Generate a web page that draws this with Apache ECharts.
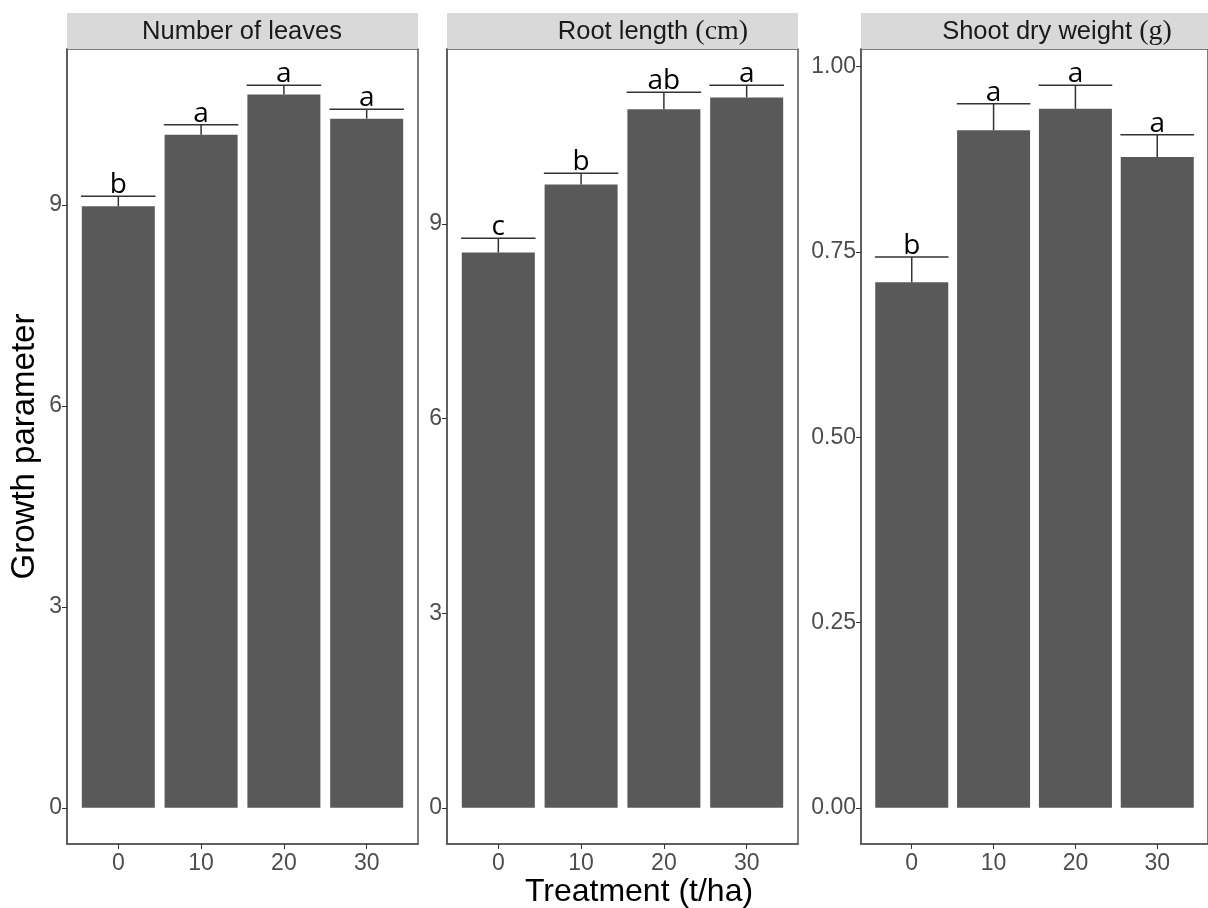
<!DOCTYPE html>
<html>
<head>
<meta charset="utf-8">
<script src="https://cdn.jsdelivr.net/npm/echarts@6/dist/echarts.min.js"></script>
<style>
  html, body { margin: 0; padding: 0; background: #fff; }
  #main { width: 1208px; height: 908px; }
</style>
</head>
<body>
<div id="main"></div>
<script>
// treatments on the x axis (t/ha)
var treatments = ['0', '10', '20', '30'];

// Number of leaves
var leaves = [8.98, 10.05, 10.65, 10.29];
var leavesSe = [0.15, 0.15, 0.14, 0.14];
var leavesLetters = ['b', 'a', 'a', 'a'];

// Root length (cm)
var rootLen = [8.56, 9.61, 10.77, 10.95];
var rootSe = [0.22, 0.17, 0.26, 0.19];
var rootLetters = ['c', 'b', 'ab', 'a'];

// Shoot dry weight (g)
var shootDw = [0.709, 0.914, 0.943, 0.878];
var shootSe = [0.034, 0.036, 0.032, 0.030];
var shootLetters = ['b', 'a', 'a', 'a'];

var ticksA = [0, 3, 6, 9];
var ticksB = [0, 0.25, 0.5, 0.75, 1.0];

var panels = [
  { vals: leaves, se: leavesSe, letters: leavesLetters, ticks: ticksA, dec: 0, left: 67 },
  { vals: rootLen, se: rootSe, letters: rootLetters, ticks: ticksA, dec: 0, left: 447 },
  { vals: shootDw, se: shootSe, letters: shootLetters, ticks: ticksB, dec: 2, left: 861 }
];

var lab = { fontFamily: '"Liberation Sans", Arial, sans-serif', fontSize: 23, color: '#4d4d4d' };
var grids = [], xAxes = [], yAxes = [], series = [];

panels.forEach(function (p, k) {
  // ggplot style 5% expansion of the data range
  var top = Math.max.apply(null, p.vals.map(function (v, i) { return v + p.se[i]; }));
  grids.push({ left: p.left, top: 49, width: 351, height: 795, show: true,
    borderColor: '#555', borderWidth: 1.5, backgroundColor: '#fff' });
  xAxes.push({
    type: 'value', gridIndex: k, min: -0.62, max: 3.62,
    splitLine: { show: false },
    axisLine: { show: true, onZero: false, lineStyle: { color: '#555', width: 1.5 } },
    axisTick: { show: true, length: 5, lineStyle: { color: '#333' }, customValues: [0, 1, 2, 3] },
    axisLabel: Object.assign({ margin: 8, customValues: [0, 1, 2, 3],
      formatter: function (v) { return treatments[Math.round(v)]; } }, lab)
  });
  yAxes.push({
    type: 'value', gridIndex: k, min: -0.05 * top, max: 1.05 * top,
    splitLine: { show: false },
    axisLine: { show: true, onZero: false, lineStyle: { color: '#555', width: 1.5 } },
    axisTick: { show: true, length: 5, lineStyle: { color: '#333' }, customValues: p.ticks },
    axisLabel: Object.assign({ margin: 5, customValues: p.ticks,
      formatter: function (v) { return v.toFixed(p.dec); } }, lab),
    name: k === 0 ? 'Growth parameter' : '',
    nameLocation: 'middle', nameGap: 26, nameRotate: 90,
    nameTextStyle: { fontFamily: '"Liberation Sans", Arial, sans-serif', fontSize: 33, color: '#000' }
  });
  series.push({
    type: 'bar', xAxisIndex: k, yAxisIndex: k, barWidth: 73,
    itemStyle: { color: '#595959' },
    data: p.vals.map(function (v, i) { return [i, v]; })
  });
  series.push({
    type: 'custom', xAxisIndex: k, yAxisIndex: k, z: 3,
    data: p.vals.map(function (v, i) { return [i, v, v + p.se[i]]; }),
    renderItem: function (params, api) {
      var a = api.coord([api.value(0), api.value(1)]);
      var b = api.coord([api.value(0), api.value(2)]);
      var half = api.size([0.9, 0])[0] / 2;
      var ls = { stroke: '#333', lineWidth: 1.5 };
      return { type: 'group', children: [
        { type: 'line', shape: { x1: a[0], y1: a[1], x2: b[0], y2: b[1] }, style: ls },
        { type: 'line', shape: { x1: b[0] - half, y1: b[1], x2: b[0] + half, y2: b[1] }, style: ls },
        { type: 'text', x: b[0], y: b[1] + 3, style: { text: p.letters[params.dataIndex],
          fill: '#000', font: '28px "Open Sans", "DejaVu Sans", sans-serif',
          align: 'center', verticalAlign: 'bottom' } }
      ] };
    }
  });
});

// facet strips
var strips = [
  { left: 67, cx: 242, text: '{s|Number of leaves}' },
  { left: 447, cx: 653, text: '{s|Root length }{r|(cm)}' },
  { left: 861, cx: 1057, text: '{s|Shoot dry weight }{r|(g)}' }
];
var graphics = [];
strips.forEach(function (s) {
  graphics.push({ type: 'rect', left: s.left, top: 13, shape: { width: 351, height: 36 },
    style: { fill: '#d9d9d9' } });
  graphics.push({ type: 'text', x: s.cx, y: 32, style: {
    text: s.text, align: 'center', verticalAlign: 'middle',
    rich: {
      s: { fontFamily: '"Liberation Sans", Arial, sans-serif', fontSize: 25.5, fill: '#1a1a1a' },
      r: { fontFamily: '"Liberation Serif", "Times New Roman", serif', fontSize: 28, fill: '#1a1a1a' }
    } } });
});
graphics.push({ type: 'text', x: 639, y: 892, style: {
  text: 'Treatment (t/ha)', align: 'center', verticalAlign: 'middle',
  font: '32px "Liberation Sans", Arial, sans-serif', fill: '#000' } });

var myChart = echarts.init(document.getElementById('main'));
myChart.setOption({
  animation: false,
  backgroundColor: '#fff',
  grid: grids,
  xAxis: xAxes,
  yAxis: yAxes,
  series: series,
  graphic: graphics
});
</script>
</body>
</html>
